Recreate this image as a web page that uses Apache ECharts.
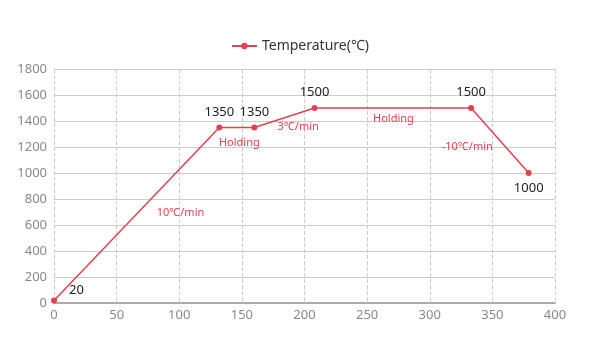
<!DOCTYPE html>
<html><head><meta charset="utf-8">
<script src="https://cdn.jsdelivr.net/npm/echarts@6/dist/echarts.min.js"></script>
<style>html,body{margin:0;padding:0;background:#fff}#c{width:600px;height:355px}</style>
</head><body><div id="c"></div>
<script>
var times = [0, 132, 160, 208, 333, 379];
var temps = [20, 1350, 1350, 1500, 1500, 1000];
var yTicks = [0, 200, 400, 600, 800, 1000, 1200, 1400, 1600, 1800];
var xTicks = [0, 50, 100, 150, 200, 250, 300, 350, 400];
var noteTexts = ['10℃/min', 'Holding', '3℃/min', 'Holding', '-10℃/min'];
var noteX = [101, 148, 195, 271, 330];
var noteY = [690, 1230, 1355, 1415, 1200];

var RED = '#e0424f';
var font = 'Noto Sans';
var chart = echarts.init(document.getElementById('c'));
var labelPos = ['insideBottomLeft', 'top', 'top', 'top', 'top', 'bottom'];
var data = times.map(function (t, i) {
  var d = { value: [t, temps[i]], label: { position: labelPos[i] } };
  if (i === 0) d.label = { position: 'right', offset: [6, -10] };
  return d;
});
chart.setOption({
  animation: false,
  textStyle: { fontFamily: font },
  legend: {
    top: 34, left: 'center', itemWidth: 25, itemHeight: 8, itemGap: 6,
    textStyle: { color: '#333', fontSize: 14, fontFamily: font },
    data: ['Temperature(℃)']
  },
  grid: { left: 54, right: 45, top: 69, bottom: 52 },
  xAxis: {
    type: 'value', min: 0, max: 400, interval: 50,
    axisLine: { lineStyle: { color: '#aaa', width: 2 } },
    axisTick: { show: false },
    axisLabel: { color: '#888', fontSize: 13, margin: 6,
      formatter: function (v) { return String(v); } },
    splitLine: { show: true, lineStyle: { type: 'dashed', color: '#ccc' } }
  },
  yAxis: {
    type: 'value', min: 0, max: 1800, interval: 200,
    axisLine: { show: false }, axisTick: { show: false },
    axisLabel: { color: '#888', fontSize: 13, margin: 7,
      formatter: function (v) { return String(v); } },
    splitLine: { lineStyle: { color: '#ccc' } }
  },
  series: [{
    name: 'Temperature(℃)', type: 'line', data: data,
    color: RED, symbol: 'circle', symbolSize: 6,
    lineStyle: { width: 1.5, color: RED },
    itemStyle: { color: RED },
    label: { show: true, color: '#222', fontSize: 13, distance: 6,
      formatter: function (p) { return temps[p.dataIndex]; } },
    markPoint: {
      symbol: 'circle', symbolSize: 0, silent: true,
      label: { show: true, position: 'inside', color: RED, fontSize: 11,
        formatter: function (p) { return p.name; } },
      data: noteTexts.map(function (t, i) { return { name: t, coord: [noteX[i], noteY[i]] }; })
    }
  }]
});
</script></body></html>
